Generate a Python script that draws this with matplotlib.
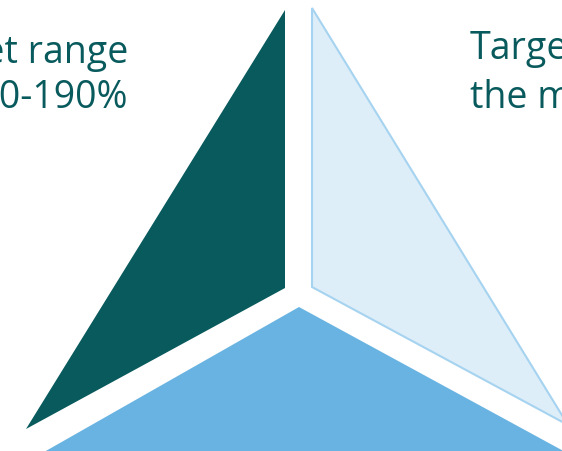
import matplotlib.pyplot as plt
from matplotlib.patches import Polygon

# triangle pieces (image pixel space, y down)
dark_x = [285, 285, 26]
dark_y = [10, 288, 429]
light_x = [312, 312, 568]
light_y = [8, 287, 425]
mid_x = [299, 30, 580]
mid_y = [307, 460, 460]

left_lines = ["Target range", "170-190%"]
right_lines = ["Target", "the market"]

teal = "#095a5d"

fig = plt.figure(figsize=(5.62, 4.51), dpi=100)
ax = fig.add_axes([0, 0, 1, 1])
ax.set_xlim(0, 562)
ax.set_ylim(451, 0)
ax.axis("off")

ax.add_patch(Polygon(list(zip(dark_x, dark_y)), closed=True, facecolor=teal, edgecolor="none"))
ax.add_patch(Polygon(list(zip(light_x, light_y)), closed=True, facecolor="#ddeef9",
                     edgecolor="#a6d3f0", linewidth=1.5))
ax.add_patch(Polygon(list(zip(mid_x, mid_y)), closed=True, facecolor="#68b3e1", edgecolor="none"))

ax.text(128, 63, left_lines[0], ha="right", va="baseline", color=teal,
        fontsize=27, family="Open Sans")
ax.text(128, 108, left_lines[1], ha="right", va="baseline", color=teal,
        fontsize=27, family="Open Sans")
ax.text(470, 59, right_lines[0], ha="left", va="baseline", color=teal,
        fontsize=27, family="Open Sans")
ax.text(470, 108, right_lines[1], ha="left", va="baseline", color=teal,
        fontsize=27, family="Open Sans")

fig.savefig("out.png", dpi=100)
